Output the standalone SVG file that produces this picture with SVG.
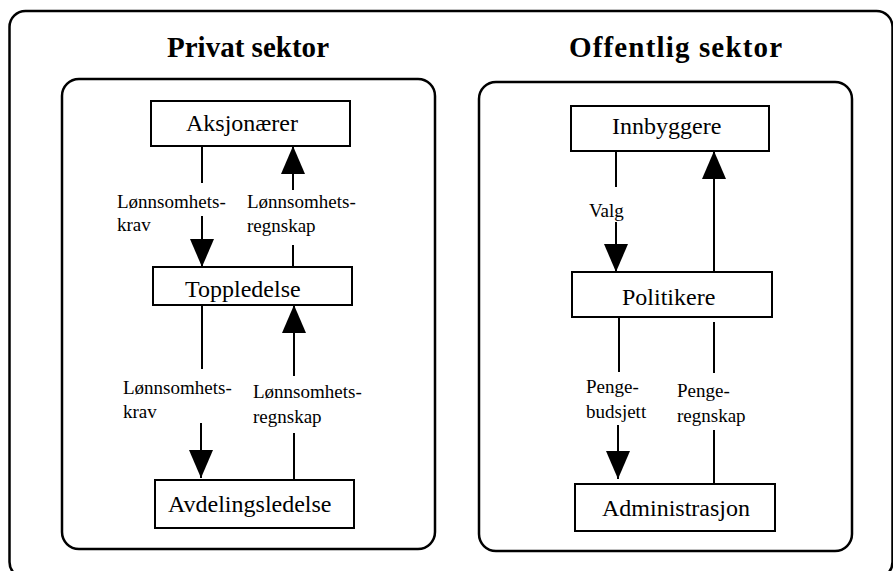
<svg xmlns="http://www.w3.org/2000/svg" width="893" height="571" viewBox="0 0 893 571">
<style>
.frame{fill:none;stroke:#000;stroke-width:2.5}
.node rect{fill:#fff;stroke:#000;stroke-width:2}
.node text{font-family:"Liberation Serif","Times New Roman",serif;font-size:24px;fill:#000}
.title{font-family:"Liberation Serif","Times New Roman",serif;font-size:29px;font-weight:bold;fill:#000}
.lbl{font-family:"Liberation Serif","Times New Roman",serif;font-size:19px;fill:#000}
#connectors line{stroke:#000;stroke-width:2}
</style>
<defs>
<marker id="ah" markerUnits="userSpaceOnUse" markerWidth="28" markerHeight="24" viewBox="0 0 28 24" refX="28" refY="12" orient="auto">
<path d="M0,0 L28,12 L0,24 Z" fill="#000"/>
</marker>
</defs>
<rect width="893" height="571" fill="#fff"/>
<g id="frames">
<rect class="frame" x="9.5" y="11" width="883" height="567" rx="16"/>
<rect class="frame" x="62" y="79" width="373" height="470" rx="17"/>
<rect class="frame" x="479" y="82" width="373" height="469" rx="17"/>
</g>
<text class="title" x="167" y="57" textLength="162">Privat sektor</text>
<text class="title" x="569" y="57" textLength="213">Offentlig sektor</text>
<g id="connectors">
<line x1="202" y1="146" x2="202" y2="183"/>
<line x1="202" y1="216" x2="202" y2="267" marker-end="url(#ah)"/>
<line x1="293" y1="267" x2="293" y2="245"/>
<line x1="293" y1="190" x2="293" y2="146" marker-end="url(#ah)"/>
<line x1="202" y1="305" x2="202" y2="369"/>
<line x1="201" y1="423" x2="201" y2="478" marker-end="url(#ah)"/>
<line x1="294" y1="480" x2="294" y2="433"/>
<line x1="294" y1="376" x2="294" y2="305" marker-end="url(#ah)"/>
<line x1="616" y1="149" x2="616" y2="187"/>
<line x1="616" y1="222" x2="616" y2="272" marker-end="url(#ah)"/>
<line x1="714" y1="272" x2="714" y2="151" marker-end="url(#ah)"/>
<line x1="619" y1="317" x2="619" y2="372"/>
<line x1="618" y1="425" x2="618" y2="479" marker-end="url(#ah)"/>
<line x1="714" y1="322" x2="714" y2="373"/>
<line x1="714" y1="430" x2="714" y2="484"/>
<text class="lbl" x="117" y="208">Lønnsomhets-<tspan x="117" y="231">krav</tspan></text>
<text class="lbl" x="247" y="208">Lønnsomhets-<tspan x="247" y="232">regnskap</tspan></text>
<text class="lbl" x="123" y="394">Lønnsomhets-<tspan x="123" y="418">krav</tspan></text>
<text class="lbl" x="253" y="398">Lønnsomhets-<tspan x="253" y="423">regnskap</tspan></text>
<text class="lbl" x="589" y="217">Valg</text>
<text class="lbl" x="586" y="393">Penge-<tspan x="586" y="418">budsjett</tspan></text>
<text class="lbl" x="677" y="397">Penge-<tspan x="677" y="422">regnskap</tspan></text>
</g>
<g id="aksjonaerer" class="node"><rect x="151" y="101" width="199" height="45"/><text x="186" y="131">Aksjonærer</text></g>
<g id="toppledelse" class="node"><rect x="153" y="267" width="199" height="38"/><text x="185" y="297">Toppledelse</text></g>
<g id="avdelingsledelse" class="node"><rect x="155" y="480" width="199" height="48"/><text x="168" y="512">Avdelingsledelse</text></g>
<g id="innbyggere" class="node"><rect x="571" y="106" width="198" height="45"/><text x="612" y="134">Innbyggere</text></g>
<g id="politikere" class="node"><rect x="572" y="272" width="200" height="45"/><text x="622" y="305">Politikere</text></g>
<g id="administrasjon" class="node"><rect x="575" y="484" width="200" height="47"/><text x="602" y="516">Administrasjon</text></g>
</svg>
